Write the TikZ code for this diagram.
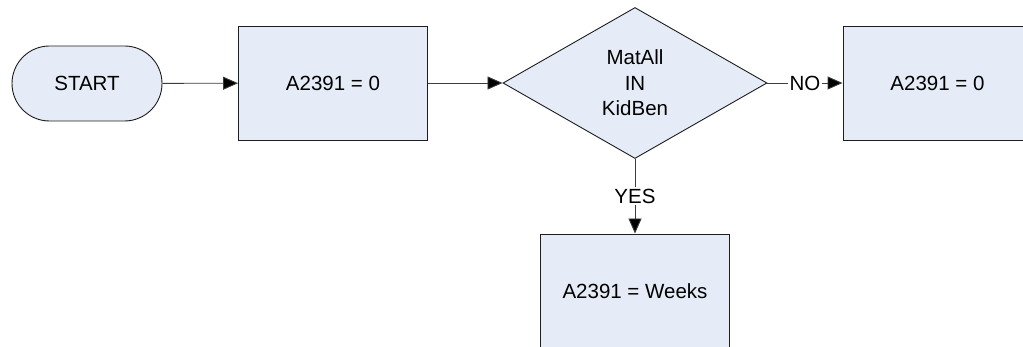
\documentclass[tikz,border=0pt]{standalone}
\usepackage{fontspec}
\setmainfont{Liberation Sans}
\usetikzlibrary{shapes.geometric,arrows.meta}
\definecolor{boxfill}{RGB}{230,236,247}
\definecolor{edgecol}{RGB}{30,30,30}
\definecolor{conncol}{RGB}{60,60,60}
\begin{document}
\begin{tikzpicture}[x=1pt,y=-1pt,
  every node/.style={font=\fontsize{20.5pt}{25.5pt}\selectfont},
  shapebase/.style={draw=edgecol, fill=boxfill, line width=0.9pt, inner sep=0pt},
  terminal/.style={shapebase, rectangle, rounded corners=37.5pt, minimum width=150pt, minimum height=75pt},
  procbox/.style={shapebase, rectangle, minimum width=189pt, minimum height=114pt},
  decision/.style={shapebase, diamond, aspect=1.75, minimum width=264pt, minimum height=151pt, align=center},
  conn/.style={draw=conncol, line width=0.9pt, -{Triangle[length=15pt,width=13pt,fill=black]}},
  lbl/.style={fill=white, inner sep=1.5pt}
]
\useasboundingbox (0,0) rectangle (1023,347);
\clip (0,0) rectangle (1023,347);
\node[terminal] (start) at (87,83.5) {START};
\node[procbox] (b1) at (333,83) {A2391 = 0};
\node[decision] (dec) at (635,83) {MatAll\\IN\\KidBen};
\node[procbox] (b2) at (937.5,83) {A2391 = 0};
\node[procbox] (b3) at (635,291) {A2391 = Weeks};
\draw[conn] (start) -- (b1);
\draw[conn] (b1) -- (dec);
\draw[conn] (dec) -- node[lbl]{NO} (b2);
\draw[conn] (dec) -- node[lbl]{YES} (b3);
\end{tikzpicture}
\end{document}
